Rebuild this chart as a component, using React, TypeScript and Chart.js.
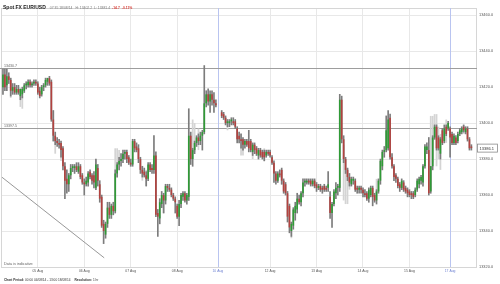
import React, { useEffect, useRef } from "react";
import { Chart, registerables } from "chart.js";

Chart.register(...registerables);

// ---- time axis (hourly candles) ----
const sessionDays = ["04 Aug", "05 Aug", "06 Aug", "07 Aug", "08 Aug", "10 Aug", "11 Aug", "12 Aug", "13 Aug", "14 Aug", "15 Aug", "17 Aug", "18 Aug"];
const sessionFirstHour = [6, 0, 0, 0, 0, 21, 0, 0, 0, 0, 0, 21, 0];
const sessionLastHour = [23, 23, 23, 23, 20, 23, 23, 23, 23, 23, 20, 23, 8];
const shownDayLabels = ["05 Aug", "06 Aug", "07 Aug", "08 Aug", "10 Aug", "12 Aug", "13 Aug", "14 Aug", "15 Aug", "17 Aug"];
const weekStartDays = ["10 Aug", "17 Aug"];
const yTickValues = [13320, 13340, 13360, 13380, 13400, 13420, 13440, 13460];

// ---- OHLC (points x10000) ----
const opens = [
  13420, 13427, 13421, 13426, 13424, 13418, 13420, 13417, 13419, 13415,
  13416, 13418, 13421, 13421, 13423, 13421, 13422, 13423, 13422, 13418,
  13416, 13420, 13421, 13423, 13425, 13423, 13402, 13393, 13390, 13389,
  13389, 13386, 13376, 13369, 13366, 13371, 13375, 13375, 13376, 13373,
  13376, 13371, 13367, 13366, 13367, 13373, 13371, 13371, 13364, 13375,
  13366, 13359, 13344, 13338, 13344, 13353, 13349, 13354, 13351, 13372,
  13377, 13379, 13380, 13383, 13384, 13381, 13378, 13377, 13390, 13387,
  13386, 13380, 13374, 13373, 13371, 13369, 13377, 13375, 13374, 13382,
  13350, 13347, 13355, 13360, 13357, 13365, 13364, 13363, 13360, 13358,
  13354, 13348, 13355, 13359, 13361, 13357, 13359, 13393, 13380, 13385,
  13389, 13392, 13390, 13393, 13395, 13411, 13416, 13412, 13416, 13413,
  13411, null, null, 13406, 13405, 13403, 13400, 13400, 13401, 13401,
  13401, 13397, 13393, 13391, 13391, 13388, 13390, 13390, 13390, 13384,
  13388, 13386, 13382, 13385, 13384, 13384, 13382, 13384, 13384, 13381,
  13378, 13372, 13368, 13372, 13374, 13368, 13366, 13361, 13354, 13340,
  13343, 13350, 13352, 13358, 13356, 13361, 13367, 13367, 13368, 13368,
  13366, 13368, 13366, 13364, 13365, 13364, 13365, 13364, 13364, 13359,
  13350, 13355, 13361, 13364, 13364, 13413, 13391, 13380, 13374, 13370,
  13366, 13368, 13368, 13364, 13363, 13364, 13363, 13361, 13361, 13358,
  13360, 13364, 13360, 13357, 13362, 13368, 13376, 13384, 13385, 13386,
  13403, 13381, 13376, 13371, 13369, 13366, 13364, 13367, 13364, 13363,
  13362, 13361, 13361, 13360, 13363, 13366, 13368, 13367, 13376, 13385,
  13385, 13362, 13376, 13392, 13398, 13392, 13383, 13396, 13390, 13398,
  13397, 13397, 13394, 13389, 13392, 13390, 13394, 13395, 13398, 13395,
  13397, 13391, 13387,
];
const highs = [
  13430, 13430, 13430, 13428, 13425, 13422, 13422, 13421, 13421, 13419,
  13420, 13422, 13423, 13424, 13424, 13423, 13424, 13424, 13423, 13420,
  13421, 13422, 13425, 13425, 13426, 13424, 13407, 13395, 13392, 13391,
  13390, 13387, 13378, 13374, 13372, 13377, 13377, 13377, 13378, 13378,
  13377, 13372, 13369, 13370, 13373, 13374, 13372, 13373, 13380, 13377,
  13368, 13360, 13346, 13345, 13356, 13356, 13355, 13356, 13374, 13378,
  13381, 13383, 13385, 13385, 13385, 13382, 13380, 13391, 13391, 13389,
  13388, 13381, 13376, 13375, 13373, 13378, 13378, 13377, 13393, 13384,
  13352, 13358, 13362, 13361, 13366, 13366, 13366, 13364, 13361, 13359,
  13355, 13357, 13361, 13362, 13362, 13361, 13408, 13395, 13386, 13390,
  13393, 13394, 13395, 13396, 13432, 13418, 13419, 13418, 13418, 13417,
  13413, null, null, 13407, 13406, 13404, 13402, 13402, 13403, 13403,
  13402, 13398, 13395, 13394, 13392, 13391, 13391, 13396, 13391, 13389,
  13389, 13387, 13386, 13386, 13385, 13385, 13385, 13385, 13385, 13382,
  13379, 13373, 13373, 13374, 13375, 13369, 13367, 13362, 13355, 13345,
  13353, 13356, 13361, 13360, 13362, 13369, 13369, 13369, 13369, 13369,
  13369, 13369, 13367, 13366, 13366, 13365, 13366, 13365, 13373, 13362,
  13356, 13363, 13367, 13366, 13416, 13415, 13393, 13381, 13375, 13372,
  13370, 13370, 13369, 13365, 13365, 13365, 13364, 13363, 13362, 13364,
  13365, 13365, 13361, 13363, 13369, 13380, 13385, 13387, 13404, 13407,
  13405, 13383, 13377, 13372, 13370, 13367, 13369, 13368, 13365, 13364,
  13363, 13362, 13362, 13364, 13369, 13370, 13371, 13377, 13388, 13389,
  13392, 13376, 13393, 13399, 13399, 13393, 13392, 13397, 13399, 13399,
  13401, 13398, 13395, 13394, 13393, 13395, 13397, 13398, 13399, 13398,
  13398, 13392, 13388,
];
const lows = [
  13416, 13418, 13418, 13422, 13415, 13416, 13416, 13416, 13416, 13413,
  13414, 13417, 13419, 13420, 13420, 13420, 13421, 13421, 13416, 13414,
  13415, 13418, 13420, 13421, 13421, 13401, 13390, 13388, 13387, 13386,
  13381, 13374, 13358, 13361, 13362, 13369, 13373, 13372, 13373, 13372,
  13369, 13366, 13360, 13365, 13365, 13369, 13366, 13364, 13363, 13365,
  13356, 13342, 13333, 13336, 13342, 13347, 13347, 13349, 13350, 13370,
  13374, 13376, 13378, 13380, 13378, 13377, 13376, 13376, 13384, 13384,
  13378, 13372, 13370, 13370, 13365, 13368, 13373, 13372, 13372, 13348,
  13337, 13344, 13353, 13350, 13355, 13362, 13362, 13359, 13357, 13350,
  13347, 13343, 13353, 13357, 13356, 13355, 13357, 13377, 13376, 13383,
  13387, 13388, 13388, 13385, 13394, 13409, 13410, 13406, 13410, 13406,
  13409, null, null, 13403, 13402, 13399, 13398, 13398, 13399, 13399,
  13397, 13389, 13389, 13386, 13385, 13386, 13387, 13384, 13384, 13382,
  13383, 13382, 13380, 13381, 13380, 13379, 13381, 13382, 13381, 13377,
  13367, 13366, 13367, 13370, 13366, 13361, 13360, 13345, 13339, 13337,
  13341, 13346, 13350, 13355, 13354, 13359, 13365, 13366, 13366, 13365,
  13365, 13364, 13362, 13363, 13362, 13361, 13362, 13362, 13362, 13347,
  13342, 13354, 13358, 13360, 13362, 13389, 13378, 13372, 13368, 13365,
  13365, 13366, 13362, 13361, 13361, 13361, 13359, 13359, 13357, 13356,
  13359, 13354, 13356, 13355, 13361, 13366, 13374, 13381, 13384, 13385,
  13380, 13375, 13368, 13367, 13364, 13362, 13363, 13362, 13361, 13359,
  13359, 13358, 13358, 13359, 13362, 13364, 13366, 13365, 13375, 13383,
  13360, 13361, 13374, 13391, 13385, 13385, 13380, 13388, 13389, 13393,
  13396, 13381, 13388, 13388, 13388, 13389, 13393, 13394, 13395, 13394,
  13390, 13385, 13385,
];
const closes = [
  13427, 13420, 13426, 13424, 13418, 13420, 13417, 13419, 13417, 13419,
  13419, 13421, 13422, 13423, 13421, 13422, 13423, 13422, 13417, 13415,
  13420, 13421, 13424, 13425, 13422, 13402, 13393, 13390, 13389, 13388,
  13385, 13376, 13368, 13366, 13371, 13375, 13376, 13376, 13374, 13376,
  13370, 13367, 13366, 13368, 13372, 13370, 13368, 13367, 13377, 13368,
  13358, 13343, 13340, 13344, 13353, 13349, 13354, 13351, 13372, 13377,
  13379, 13380, 13383, 13384, 13380, 13378, 13377, 13390, 13386, 13385,
  13380, 13374, 13372, 13371, 13369, 13377, 13374, 13374, 13382, 13349,
  13348, 13356, 13360, 13357, 13365, 13364, 13363, 13360, 13358, 13356,
  13348, 13355, 13360, 13361, 13357, 13360, 13393, 13380, 13385, 13389,
  13392, 13390, 13393, 13395, 13411, 13416, 13412, 13416, 13413, 13411,
  13410, null, null, 13404, 13403, 13400, 13401, 13401, 13402, 13400,
  13398, 13391, 13391, 13390, 13388, 13390, 13388, 13386, 13385, 13388,
  13385, 13383, 13385, 13382, 13381, 13381, 13384, 13383, 13382, 13378,
  13372, 13368, 13372, 13371, 13368, 13362, 13361, 13348, 13342, 13344,
  13352, 13354, 13358, 13356, 13361, 13367, 13368, 13368, 13367, 13366,
  13368, 13365, 13364, 13365, 13363, 13363, 13363, 13363, 13366, 13350,
  13355, 13362, 13364, 13365, 13413, 13391, 13380, 13374, 13370, 13367,
  13369, 13369, 13363, 13363, 13364, 13363, 13361, 13360, 13358, 13363,
  13364, 13359, 13357, 13362, 13368, 13379, 13384, 13385, 13396, 13402,
  13381, 13376, 13370, 13369, 13365, 13364, 13368, 13363, 13362, 13361,
  13360, 13360, 13359, 13363, 13368, 13369, 13370, 13376, 13387, 13387,
  13361, 13376, 13392, 13398, 13386, 13386, 13391, 13389, 13397, 13394,
  13400, 13392, 13389, 13393, 13389, 13394, 13396, 13397, 13396, 13397,
  13391, 13386, 13386.1,
];

// ---- light grey comparison ranges ----
const greyIndex = [4, 9, 10, 26, 27, 30, 48, 58, 59, 60, 72, 74, 83, 98, 99, 101, 116, 123, 124, 129, 135, 144, 149, 176, 177, 178, 179, 193, 221, 222, 223, 224, 225, 226, 229, 238];
const greyLow = [13414, 13409, 13408, 13390, 13383, 13379, 13363, 13371, 13370, 13377, 13368, 13365, 13350, 13384, 13384, 13385, 13396, 13382, 13382, 13380, 13379, 13366, 13336, 13357, 13355, 13355, 13363, 13361, 13362, 13378, 13391, 13376, 13380, 13374, 13389, 13394];
const greyHigh = [13425, 13416, 13415, 13407, 13392, 13386, 13380, 13386, 13386, 13385, 13376, 13374, 13360, 13402, 13400, 13397, 13402, 13394, 13390, 13389, 13386, 13374, 13342, 13388, 13375, 13375, 13370, 13369, 13404, 13404, 13405, 13405, 13398, 13394, 13402, 13399];

// ---- annotations ----
const levelValues = [13430.7, 13397.5];
const levelLabels = ["13430.7", "13397.5"];
const trendIndex = [-0.5, 52.3];
const trendValue = [13369.9, 13325.1];
const lastPrice = 13386.1;

const FONT = "'Liberation Sans', Arial, sans-serif";
const UP = "#2f9a36";
const DOWN = "#b2423f";
const WICK = "#7c7c7c";
const GRID = "#e8e8e8";
const WEEK = "#b9c4f0";

export default function App() {
  const ref = useRef<HTMLCanvasElement | null>(null);

  useEffect(() => {
    const canvas = ref.current;
    if (!canvas) return;

    const dayOfIndex: string[] = [];
    sessionDays.forEach((d, k) => {
      for (let h = sessionFirstHour[k]; h <= sessionLastHour[k]; h++) dayOfIndex.push(d);
    });
    const tickIdx: number[] = shownDayLabels.map((d) => dayOfIndex.indexOf(d));
    const tickText: Record<number, string> = {};
    tickIdx.forEach((t, k) => (tickText[t] = shownDayLabels[k]));
    const weekIdx = weekStartDays.map((d) => dayOfIndex.indexOf(d));

    const wickData: any[] = [];
    const bodyData: any[] = [];
    const bodyColors: string[] = [];
    for (let i = 0; i < opens.length; i++) {
      const o = opens[i], c = closes[i], h = highs[i], l = lows[i];
      if (o == null || c == null || h == null || l == null) continue;
      wickData.push({ x: i, y: [l, h] });
      bodyData.push({ x: i, y: [o, c] });
      bodyColors.push(c >= o ? UP : DOWN);
    }
    const greyData = greyIndex.map((x, k) => ({ x, y: [greyLow[k], greyHigh[k]] }));
    const trendData = trendIndex.map((x, k) => ({ x, y: trendValue[k] }));

    const annotate = {
      id: "annotate",
      beforeDatasetsDraw(chart: any) {
        const { ctx, chartArea: a, scales } = chart;
        ctx.save();
        ctx.strokeStyle = "#d6d6d6";
        ctx.lineWidth = 1;
        ctx.strokeRect(Math.round(a.left) - 0.5, Math.round(a.top) + 0.5, Math.round(a.right - a.left), Math.round(a.bottom - a.top));
        // week separators
        weekIdx.forEach((w) => {
          const px = Math.round(scales.x.getPixelForValue(w)) + 0.5;
          ctx.strokeStyle = WEEK;
          ctx.beginPath();
          ctx.moveTo(px, a.top);
          ctx.lineTo(px, a.bottom);
          ctx.stroke();
        });
        levelValues.forEach((v, k) => {
          const py = Math.round(scales.y.getPixelForValue(v)) + 0.5;
          ctx.strokeStyle = "#9d9d9d";
          ctx.beginPath();
          ctx.moveTo(0, py);
          ctx.lineTo(a.right, py);
          ctx.stroke();
          ctx.fillStyle = "#666";
          ctx.font = `3.6px ${FONT}`;
          ctx.textBaseline = "bottom";
          ctx.textAlign = "left";
          ctx.fillText(levelLabels[k], 4, py - 1);
        });
        ctx.restore();
      },
      afterDraw(chart: any) {
        const { ctx, chartArea: a, scales } = chart;
        ctx.save();
        ctx.fillStyle = "#666";
        ctx.font = `3.8px ${FONT}`;
        ctx.textBaseline = "bottom";
        ctx.textAlign = "left";
        ctx.fillText("Data is indicative", 4, a.bottom - 1);
        const py = scales.y.getPixelForValue(lastPrice);
        ctx.fillStyle = "#ffffff";
        ctx.fillRect(a.right + 0.5, py - 4, 20, 8);
        ctx.strokeStyle = "#8a8a8a";
        ctx.lineWidth = 0.8;
        ctx.strokeRect(a.right + 0.5, py - 4, 20, 8);
        ctx.fillStyle = "#333";
        ctx.font = `4px ${FONT}`;
        ctx.textBaseline = "middle";
        ctx.fillText(lastPrice.toFixed(1), a.right + 2.5, py + 0.3);
        ctx.restore();
      },
    };

    const chart = new Chart(canvas, {
      type: "bar",
      data: {
        datasets: [
          {
            type: "line",
            data: trendData,
            borderColor: "#8c8c8c",
            borderWidth: 0.9,
            pointRadius: 0,
            order: 0,
          } as any,
          {
            data: bodyData,
            backgroundColor: bodyColors,
            barPercentage: 0.85,
            categoryPercentage: 1,
            grouped: false,
            minBarLength: 0.8,
            order: 1,
          } as any,
          {
            data: wickData,
            backgroundColor: WICK,
            barThickness: 1,
            grouped: false,
            order: 2,
          } as any,
          {
            data: greyData,
            backgroundColor: "#d4d4d4",
            barPercentage: 0.9,
            categoryPercentage: 1,
            grouped: false,
            order: 3,
          } as any,
        ],
      },
      options: {
        responsive: false,
        devicePixelRatio: 1,
        animation: false,
        layout: { padding: { left: 2, top: 8, right: 0, bottom: 10 } },
        plugins: { legend: { display: false }, tooltip: { enabled: false }, title: { display: false } },
        scales: {
          x: {
            type: "linear",
            min: -0.5,
            max: 244.9,
            offset: false,
            afterBuildTicks: (s: any) => {
              s.ticks = tickIdx.map((v) => ({ value: v }));
            },
            afterFit: (s: any) => {
              s.height = 7;
            },
            ticks: {
              autoSkip: false,
              maxRotation: 0,
              padding: 2,
              font: { size: 3.4, family: FONT },
              color: (c: any) => (weekIdx.includes(c.tick?.value) ? "#6f82d2" : "#555"),
              callback: (v: any) => tickText[v] ?? "",
            },
            grid: {
              offset: false,
              drawTicks: false,
              color: (c: any) => (weekIdx.includes(c.tick?.value) ? "rgba(0,0,0,0)" : GRID),
            },
            border: { display: false },
          },
          y: {
            type: "linear",
            position: "right",
            min: 13320,
            max: 13464,
            afterBuildTicks: (s: any) => {
              s.ticks = yTickValues.map((v) => ({ value: v }));
            },
            afterFit: (s: any) => {
              s.width = 23;
            },
            ticks: {
              padding: 2,
              font: { size: 3.9, family: FONT },
              color: "#555",
              callback: (v: any) => Number(v).toFixed(1),
            },
            grid: { color: GRID, drawTicks: false },
            border: { display: false },
          },
        },
      } as any,
      plugins: [annotate],
    });

    return () => chart.destroy();
  }, []);

  return (
    <div style={{ position: "fixed", left: 0, top: 0, width: 500, height: 284, background: "#fff", fontFamily: FONT }}>
      <canvas ref={ref} width={500} height={284} style={{ display: "block", width: 500, height: 284 }} />
      <div style={{ position: "absolute", left: 3, top: 1, whiteSpace: "nowrap", lineHeight: "6px" }}>
        <span style={{ fontSize: 5, fontWeight: "bold", color: "#222" }}>Spot FX EUR/USD</span>
        <span style={{ fontSize: 3.4, color: "#777", marginLeft: 4 }}>07:35 18/08/14</span>
        <span style={{ fontSize: 3.4, color: "#777", marginLeft: 3 }}>H: 13402.2</span>
        <span style={{ fontSize: 3.4, color: "#777", marginLeft: 2 }}>L: 13381.4</span>
        <span style={{ fontSize: 3.4, color: "#d9413a", marginLeft: 2, fontWeight: "bold" }}>-14.7</span>
        <span style={{ fontSize: 3.4, color: "#d9413a", marginLeft: 2, fontWeight: "bold" }}>-0.11%</span>
      </div>
      <div style={{ position: "absolute", left: 4, top: 278, whiteSpace: "nowrap", lineHeight: "5px", fontSize: 3.2, color: "#333" }}>
        <span style={{ fontWeight: "bold" }}>Chart Period:</span>
        <span> 00:00 04/08/14 - 13:00 18/08/14</span>
        <span style={{ fontWeight: "bold", marginLeft: 4 }}>Resolution:</span>
        <span> 1 hr</span>
      </div>
    </div>
  );
}
